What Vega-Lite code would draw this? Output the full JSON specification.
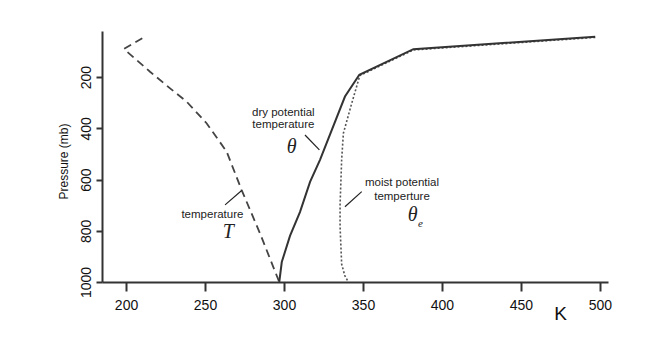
{
  "$schema": "https://vega.github.io/schema/vega-lite/v6.json",
  "width": 506,
  "height": 251,
  "autosize": "none",
  "padding": {"left": 102, "top": 31, "right": 57, "bottom": 65},
  "background": "white",
  "config": {"view": {"stroke": null}, "font": "Liberation Sans"},
  "datasets": {
    "temp": [
      {"i": 1, "K": 210.3, "p": 48},
      {"i": 2, "K": 198.7, "p": 90},
      {"i": 3, "K": 215.2, "p": 179},
      {"i": 4, "K": 227.9, "p": 244},
      {"i": 5, "K": 238.4, "p": 296},
      {"i": 6, "K": 251, "p": 380},
      {"i": 7, "K": 263.7, "p": 491},
      {"i": 8, "K": 273.2, "p": 641},
      {"i": 9, "K": 284.8, "p": 810},
      {"i": 10, "K": 297, "p": 1000}
    ],
    "theta": [
      {"i": 1, "K": 297, "p": 1000},
      {"i": 2, "K": 298.6, "p": 922},
      {"i": 3, "K": 303.8, "p": 820},
      {"i": 4, "K": 310.1, "p": 727},
      {"i": 5, "K": 316.5, "p": 609},
      {"i": 6, "K": 322.8, "p": 523},
      {"i": 7, "K": 338.6, "p": 276},
      {"i": 8, "K": 347.7, "p": 191},
      {"i": 9, "K": 381.9, "p": 91},
      {"i": 10, "K": 497, "p": 42}
    ],
    "thetae": [
      {"i": 1, "K": 497, "p": 45},
      {"i": 2, "K": 381.9, "p": 94},
      {"i": 3, "K": 348, "p": 194},
      {"i": 4, "K": 342.9, "p": 302},
      {"i": 5, "K": 337.6, "p": 419},
      {"i": 6, "K": 336.5, "p": 523},
      {"i": 7, "K": 335.5, "p": 700},
      {"i": 8, "K": 335.5, "p": 784},
      {"i": 9, "K": 336.5, "p": 930},
      {"i": 10, "K": 338.5, "p": 975},
      {"i": 11, "K": 340.7, "p": 1000}
    ],
    "labels": [
      {"label": "dry potential", "K": 299.6, "p": 339},
      {"label": "temperature", "K": 299.6, "p": 387},
      {"label": "temperature", "K": 254.7, "p": 738},
      {"label": "moist potential", "K": 374.7, "p": 613},
      {"label": "temperture", "K": 374.7, "p": 668}
    ],
    "symbols": [
      {"label": "θ", "K": 304.9, "p": 471},
      {"label": "T", "K": 264.8, "p": 804},
      {"label": "θ", "K": 381.5, "p": 738}
    ],
    "subs": [
      {"label": "e", "K": 386.3, "p": 775}
    ],
    "pointers": [
      {"K": 313.3, "p": 426, "K2": 322.4, "p2": 484},
      {"K": 262.7, "p": 699, "K2": 273.2, "p2": 643},
      {"K": 349.2, "p": 647, "K2": 338.6, "p2": 706}
    ]
  },
  "encoding": {
    "x": {
      "field": "K",
      "type": "quantitative",
      "scale": {"domain": [184.8, 505.1], "nice": false, "zero": false},
      "axis": {
        "values": [200, 250, 300, 350, 400, 450, 500],
        "format": "d",
        "grid": false,
        "domainColor": "#333",
        "domainWidth": 2,
        "tickColor": "#333",
        "tickWidth": 2,
        "tickSize": 9,
        "labelFontSize": 14,
        "labelColor": "#111",
        "labelPadding": 7,
        "title": "K",
        "titleFontSize": 19,
        "titleFontWeight": "normal",
        "titleColor": "#111",
        "titleX": 458,
        "titleY": 31,
        "titleAlign": "center",
        "titleBaseline": "middle"
      }
    },
    "y": {
      "field": "p",
      "type": "quantitative",
      "scale": {"domain": [20, 1000], "nice": false, "zero": false, "reverse": true},
      "axis": {
        "values": [200, 400, 600, 800, 1000],
        "format": "d",
        "grid": false,
        "domainColor": "#333",
        "domainWidth": 2,
        "tickColor": "#333",
        "tickWidth": 2,
        "tickSize": 6,
        "labelFontSize": 14,
        "labelColor": "#111",
        "labelAngle": -90,
        "labelAlign": "center",
        "labelBaseline": "bottom",
        "labelPadding": 3,
        "title": "Pressure (mb)",
        "titleFontSize": 12,
        "titleFontWeight": "normal",
        "titleColor": "#111",
        "titleAngle": -90,
        "titleX": -39,
        "titleY": 130,
        "titleAlign": "center",
        "titleBaseline": "middle"
      }
    }
  },
  "layer": [
    {
      "data": {"name": "temp"},
      "mark": {"type": "line", "color": "#444", "strokeWidth": 1.8, "strokeDash": [8, 5]},
      "encoding": {"order": {"field": "i", "type": "quantitative"}}
    },
    {
      "data": {"name": "thetae"},
      "mark": {"type": "line", "color": "#555", "strokeWidth": 1.6, "strokeDash": [2, 2]},
      "encoding": {"order": {"field": "i", "type": "quantitative"}}
    },
    {
      "data": {"name": "theta"},
      "mark": {"type": "line", "color": "#333", "strokeWidth": 2},
      "encoding": {"order": {"field": "i", "type": "quantitative"}}
    },
    {
      "data": {"name": "pointers"},
      "mark": {"type": "rule", "color": "#222", "strokeWidth": 1.2},
      "encoding": {
        "x2": {"field": "K2"},
        "y2": {"field": "p2"}
      }
    },
    {
      "data": {"name": "labels"},
      "mark": {"type": "text", "fontSize": 11.5, "color": "#222", "align": "center", "baseline": "middle"},
      "encoding": {"text": {"field": "label"}}
    },
    {
      "data": {"name": "symbols"},
      "mark": {"type": "text", "font": "Liberation Serif", "fontStyle": "italic", "fontSize": 20, "color": "#222", "align": "center", "baseline": "middle"},
      "encoding": {"text": {"field": "label"}}
    },
    {
      "data": {"name": "subs"},
      "mark": {"type": "text", "font": "Liberation Serif", "fontStyle": "italic", "fontSize": 11, "color": "#222", "align": "center", "baseline": "middle"},
      "encoding": {"text": {"field": "label"}}
    }
  ]
}
